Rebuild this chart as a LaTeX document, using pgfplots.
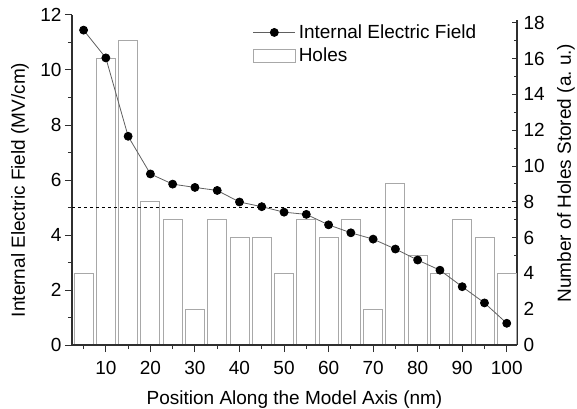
\documentclass[border=0pt]{standalone}
\usepackage{pgfplots}
\pgfplotsset{compat=1.18}
\usepackage{pgfplotstable}
\usepackage{fontspec}
\setmainfont{Liberation Sans}

\definecolor{axisgray}{HTML}{2F2F2F}
\definecolor{bargray}{HTML}{A8A8A8}
\definecolor{linegray}{HTML}{606060}

% position (nm), internal field (MV/cm), holes stored (a. u.)
\pgfplotstableread{
x    field  holes
5    11.45  4
10   10.44  16
15   7.59   17
20   6.22   8
25   5.85   7
30   5.73   2
35   5.62   7
40   5.20   6
45   5.03   6
50   4.83   4
55   4.75   7
60   4.37   6
65   4.08   7
70   3.85   2
75   3.49   9
80   3.09   5
85   2.72   4
90   2.12   7
95   1.53   6
100  0.79   4
}\datatable

\pgfplotsset{
  legline/.style={legend image code/.code={
    \draw[linegray, line width=0.8bp, mark=*, mark size=4bp,
          mark options={black, fill=black}, mark repeat=2, mark phase=2]
      plot coordinates {(0bp,0bp) (21bp,0bp) (42bp,0bp)};}},
  legbox/.style={legend image code/.code={
    \draw[bargray, fill=white, line width=0.9bp] (0bp,-6.7bp) rectangle (42bp,6.7bp);}},
}

\begin{document}
\begin{tikzpicture}[font=\fontsize{19bp}{22bp}\selectfont]
  % holes, right axis
  \begin{axis}[
      name=holesax, at={(0,0)}, anchor=south west,
      scale only axis, width=445bp, height=324.5bp,
      xmin=2.4, xmax=102.3, ymin=0, ymax=18.13,
      axis x line=none, axis y line=right,
      y axis line style={-, axisgray, line width=1.3bp},
      ytick={0,2,...,18}, minor ytick={1,3,...,17},
      tick align=inside, major tick length=4.7bp, minor tick length=2.7bp,
      tick style={axisgray, line width=1bp},
      yticklabel style={xshift=3bp},
      /pgf/number format/assume math mode=true,
      ylabel={Number of Holes Stored (a.\ u.)},
      ylabel style={at={(rel axis cs:1,0.53)}, yshift=-49bp, anchor=center},
    ]
    \addplot[ybar, bar width=19bp, draw=bargray, fill=white, line width=0.9bp]
      table[x=x, y=holes] {\datatable};
  \end{axis}
  % field, left axis
  \begin{axis}[
      name=fieldax, at={(0,0)}, anchor=south west,
      scale only axis, width=445bp, height=330bp,
      xmin=2.4, xmax=102.3, ymin=0, ymax=12,
      axis x line=bottom, axis y line=left,
      axis line style={-, axisgray, line width=1.3bp},
      xtick={10,20,...,100}, minor xtick={5,15,...,95},
      ytick={0,2,...,12}, minor ytick={1,3,...,11},
      tick align=outside, major tick length=7bp, minor tick length=4bp,
      tick style={axisgray, line width=1bp},
      xticklabel style={yshift=-6bp},
      /pgf/number format/assume math mode=true,
      xlabel={Position Along the Model Axis (nm)},
      xlabel style={at={(rel axis cs:0.5,0)}, yshift=-55bp, anchor=center},
      ylabel={Internal Electric Field (MV/cm)},
      ylabel style={at={(rel axis cs:0,0.47)}, yshift=52bp, anchor=center},
      legend style={at={(rel axis cs:0.406,0.98)}, anchor=north west,
        draw=none, fill=none, inner sep=0pt, row sep=2bp,
        nodes={inner sep=3bp}},
      legend cell align=left,
    ]
    \addplot[black, dashed, line width=0.8bp, forget plot]
      coordinates {(2.4,5) (102.3,5)};
    \addplot[linegray, line width=0.8bp, mark=*, mark size=4bp,
             mark options={black, fill=black}, legline]
      table[x=x, y=field] {\datatable};
    \addlegendentry{Internal Electric Field}
    \addlegendimage{legbox}
    \addlegendentry{Holes}
  \end{axis}
  \pgfresetboundingbox
  \path (fieldax.south west) ++(-72bp,-64bp) rectangle ([xshift=60bp,yshift=15bp]fieldax.north east);
\end{tikzpicture}
\end{document}
